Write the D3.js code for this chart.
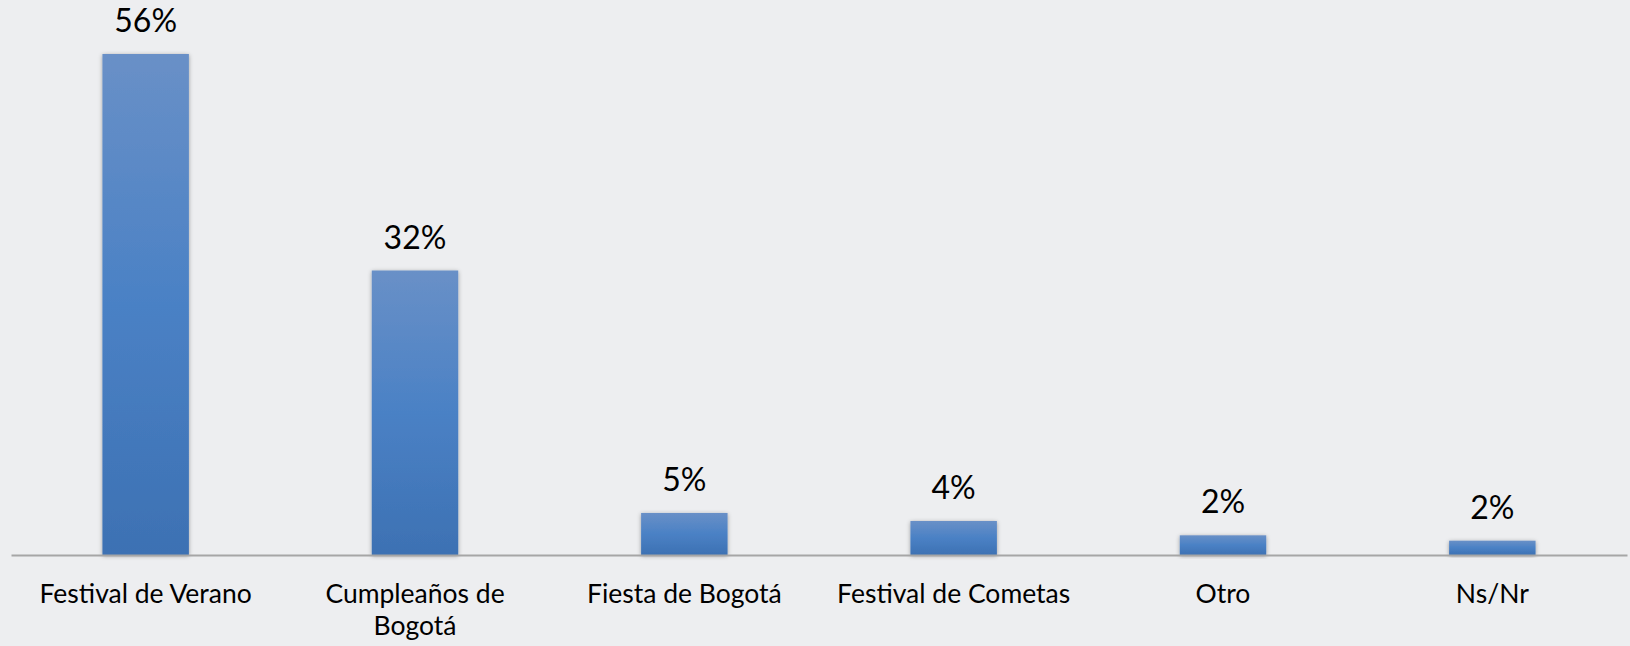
<!DOCTYPE html>
<html lang="es">
<head>
<meta charset="UTF-8">
<title>Festivales</title>
<script src="https://cdn.jsdelivr.net/npm/d3@7"></script>
<style>
  html, body { margin: 0; padding: 0; background: #edeef0; }
  svg { display: block; font-family: Lato, "Open Sans", sans-serif; }
</style>
</head>
<body>
<svg id="chart"></svg>
<script>
// data
var categories = ["Festival de Verano", "Cumpleaños de\nBogotá", "Fiesta de Bogotá", "Festival de Cometas", "Otro", "Ns/Nr"];
var values = [56, 31.8, 4.7, 3.8, 2.2, 1.6];
var valueLabels = ["56%", "32%", "5%", "4%", "2%", "2%"];

var width = 1630, height = 646;
var baseY = 555;

var svg = d3.select("#chart")
    .attr("width", width)
    .attr("height", height);

svg.append("rect")
    .attr("width", width)
    .attr("height", height)
    .attr("fill", "#edeef0");

var defs = svg.append("defs");

var grad = defs.append("linearGradient")
    .attr("id", "barGrad")
    .attr("x1", 0).attr("y1", 0)
    .attr("x2", 0).attr("y2", 1);
grad.append("stop").attr("offset", "0%").attr("stop-color", "#6990c7");
grad.append("stop").attr("offset", "50%").attr("stop-color", "#4a81c5");
grad.append("stop").attr("offset", "100%").attr("stop-color", "#3d71b3");

var shadow = defs.append("filter")
    .attr("id", "shadow")
    .attr("x", "-20%").attr("y", "-20%")
    .attr("width", "140%").attr("height", "140%");
shadow.append("feDropShadow")
    .attr("dx", 0).attr("dy", 1)
    .attr("stdDeviation", 2)
    .attr("flood-color", "#000")
    .attr("flood-opacity", 0.35);

var x = d3.scaleBand()
    .domain(categories)
    .range([11, 1627])
    .padding(0);

var y = d3.scaleLinear()
    .domain([0, 56])
    .range([baseY, 54]);

var barW = x.bandwidth() * 0.321;

// bars
svg.selectAll("rect.bar")
    .data(values)
    .join("rect")
    .attr("class", "bar")
    .attr("x", (d, i) => x(categories[i]) + x.bandwidth() / 2 - barW / 2)
    .attr("y", d => y(d))
    .attr("width", barW)
    .attr("height", d => baseY - y(d))
    .attr("fill", "url(#barGrad)")
    .attr("filter", "url(#shadow)");

// axis
var xAxis = svg.append("g")
    .attr("transform", "translate(0," + baseY + ")")
    .call(d3.axisBottom(x).tickSize(0).tickPadding(0));

xAxis.select(".domain")
    .attr("stroke", "#a6a6a6")
    .attr("stroke-width", 2);

xAxis.selectAll(".tick text").each(function(d) {
    var t = d3.select(this);
    var lines = d.split("\n");
    t.text(null)
        .attr("y", 0)
        .attr("dy", null)
        .attr("fill", "#000")
        .style("font-size", "26.5px")
        .style("font-family", "Lato, 'Open Sans', sans-serif");
    lines.forEach(function(l, k) {
        t.append("tspan")
            .attr("x", 0)
            .attr("y", 47.5 + k * 32)
            .text(l);
    });
});

// value labels
svg.selectAll("text.val")
    .data(values)
    .join("text")
    .attr("class", "val")
    .attr("x", (d, i) => x(categories[i]) + x.bandwidth() / 2)
    .attr("y", d => y(d) - 22)
    .attr("text-anchor", "middle")
    .attr("fill", "#000")
    .style("font-size", "32px")
    .text((d, i) => valueLabels[i]);
</script>
</body>
</html>
